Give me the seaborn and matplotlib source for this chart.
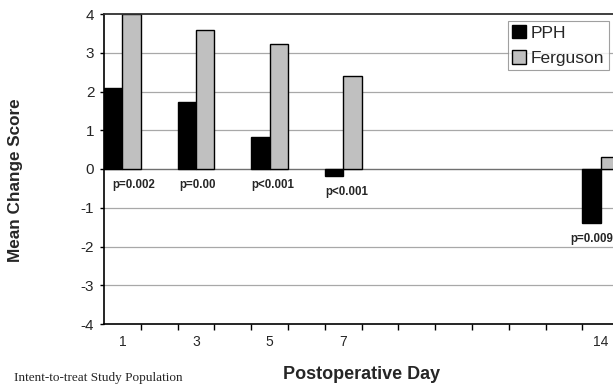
import matplotlib
matplotlib.use("Agg")
import matplotlib.pyplot as plt
import seaborn as sns
import pandas as pd
import numpy as np

days = [1, 3, 5, 7, 14]
pph = [2.1, 1.72, 0.83, -0.18, -1.4]
ferguson = [4.0, 3.6, 3.22, 2.4, 0.32]
p_labels = ["p=0.002", "p=0.00", "p<0.001", "p<0.001", "p=0.009"]
all_days = list(range(1, 15))
shown_ticks = [1, 3, 5, 7, 14]
groups = ["PPH", "Ferguson"]

# horizontal nudges of the p-value labels (in category units)
p_offsets = [0.3, 0.05, 0.1, 0.1, -0.25]

sns.set_theme(style="white")
plt.rcParams['font.family'] = ['Liberation Sans', 'DejaVu Sans']

df = pd.DataFrame({
    "day": days * 2,
    "value": pph + ferguson,
    "group": ["PPH"] * len(days) + ["Ferguson"] * len(days),
})

fig = plt.figure(figsize=(6.13, 3.86), dpi=100)
ax = fig.add_axes([104 / 613, 1 - 324 / 386, 1 - 104 / 613 + 0.01, (324 - 14) / 386])

sns.barplot(data=df, x="day", y="value", hue="group", order=all_days,
            hue_order=groups, palette={"PPH": "#000000", "Ferguson": "#c0c0c0"},
            width=1.0, edgecolor="black", linewidth=1.0, ax=ax, legend=True)

ax.set_xlim(-0.5, 13.5)
ax.set_ylim(-4, 4)
ax.set_yticks(range(-4, 5))
ax.set_yticklabels([str(v) for v in range(-4, 5)], fontsize=11)
ax.set_xticks([all_days.index(d) for d in shown_ticks])
ax.set_xticklabels([str(d) for d in shown_ticks], fontsize=10)
ax.tick_params(axis="x", which="major", length=0, pad=8)
ax.set_xticks(np.arange(0.5, 13.5, 1.0), minor=True)
ax.tick_params(axis="x", which="minor", length=4, width=1, direction="out", color="black", bottom=True)
ax.tick_params(axis="y", length=3, width=1, direction="out", color="black", left=True, pad=4)

for v in [-3, -2, -1, 1, 2, 3]:
    ax.axhline(v, color="#a8a8a8", linewidth=0.9, zorder=0)
ax.axhline(0, color="#707070", linewidth=1.0, zorder=0.5)

for s in ["left", "bottom"]:
    ax.spines[s].set_color("black")
    ax.spines[s].set_linewidth(1.2)
ax.spines["top"].set_color("#303030")
ax.spines["top"].set_linewidth(1.3)
ax.spines["right"].set_visible(False)

ax.set_xlabel("Postoperative Day", fontsize=13, fontweight="bold", labelpad=12)
ax.set_ylabel("Mean Change Score", fontsize=12.3, fontweight="bold")
ax.yaxis.set_label_coords(-0.157, 0.465)

# p-value labels
for d, pv, val, off in zip(days, p_labels, pph, p_offsets):
    xi = all_days.index(d)
    y0 = min(0, val)
    ax.text(xi + off, y0 - 0.25, pv, ha="center", va="top", fontsize=8.3, fontweight="bold")

leg = ax.legend(loc="upper right", bbox_to_anchor=(0.98, 0.978), frameon=True,
                fontsize=12.5, handlelength=0.8, handleheight=0.8, handletextpad=0.3,
                borderpad=0.25, labelspacing=0.55, fancybox=False, title=None,
                borderaxespad=0)
leg.get_frame().set_edgecolor("#888888")
leg.get_frame().set_linewidth(0.8)

fig.text(14 / 613, 1 - 378 / 386, "Intent-to-treat Study Population",
         family=["Liberation Serif", "DejaVu Serif"], fontsize=9.5, va="center", ha="left")

fig.savefig("out.png", dpi=100)
